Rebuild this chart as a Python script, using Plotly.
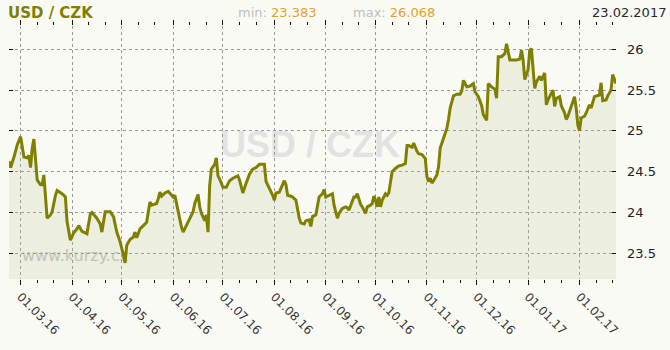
import plotly.graph_objects as go
from datetime import date

title_text = "USD / CZK"
watermark_site = "www.kurzy.cz"

dates = [
    "2016-02-23", "2016-02-24", "2016-02-26", "2016-02-28", "2016-03-01", "2016-03-03", "2016-03-05", "2016-03-06",
    "2016-03-07", "2016-03-08", "2016-03-09", "2016-03-10", "2016-03-11", "2016-03-13", "2016-03-14", "2016-03-15",
    "2016-03-16", "2016-03-17", "2016-03-19", "2016-03-20", "2016-03-22", "2016-03-23", "2016-03-26", "2016-03-28",
    "2016-03-29", "2016-03-31", "2016-04-02", "2016-04-04", "2016-04-05", "2016-04-07", "2016-04-09", "2016-04-10",
    "2016-04-12", "2016-04-13", "2016-04-16", "2016-04-18", "2016-04-19", "2016-04-20", "2016-04-21", "2016-04-24",
    "2016-04-26", "2016-04-28", "2016-04-30", "2016-05-02", "2016-05-03", "2016-05-04", "2016-05-06", "2016-05-08",
    "2016-05-09", "2016-05-10", "2016-05-11", "2016-05-12", "2016-05-14", "2016-05-16", "2016-05-17", "2016-05-18",
    "2016-05-19", "2016-05-22", "2016-05-23", "2016-05-24", "2016-05-25", "2016-05-27", "2016-05-29", "2016-05-31",
    "2016-06-01", "2016-06-02", "2016-06-03", "2016-06-05", "2016-06-06", "2016-06-07", "2016-06-09", "2016-06-11",
    "2016-06-13", "2016-06-14", "2016-06-16", "2016-06-17", "2016-06-18", "2016-06-20", "2016-06-21", "2016-06-22",
    "2016-06-23", "2016-06-24", "2016-06-26", "2016-06-27", "2016-06-28", "2016-06-29", "2016-07-01", "2016-07-03",
    "2016-07-05", "2016-07-07", "2016-07-09", "2016-07-10", "2016-07-11", "2016-07-13", "2016-07-15", "2016-07-17",
    "2016-07-19", "2016-07-21", "2016-07-23", "2016-07-25", "2016-07-26", "2016-07-27", "2016-07-29", "2016-07-31",
    "2016-08-01", "2016-08-02", "2016-08-04", "2016-08-06", "2016-08-07", "2016-08-08", "2016-08-09", "2016-08-11",
    "2016-08-12", "2016-08-14", "2016-08-15", "2016-08-16", "2016-08-17", "2016-08-19", "2016-08-20", "2016-08-22",
    "2016-08-23", "2016-08-24", "2016-08-26", "2016-08-27", "2016-08-28", "2016-08-30", "2016-08-31", "2016-09-01",
    "2016-09-03", "2016-09-05", "2016-09-06", "2016-09-08", "2016-09-09", "2016-09-11", "2016-09-13", "2016-09-14",
    "2016-09-15", "2016-09-17", "2016-09-18", "2016-09-19", "2016-09-20", "2016-09-22", "2016-09-23", "2016-09-25",
    "2016-09-26", "2016-09-28", "2016-09-29", "2016-09-30", "2016-10-01", "2016-10-02", "2016-10-03", "2016-10-04",
    "2016-10-05", "2016-10-07", "2016-10-08", "2016-10-09", "2016-10-10", "2016-10-11", "2016-10-13", "2016-10-15",
    "2016-10-17", "2016-10-19", "2016-10-20", "2016-10-21", "2016-10-23", "2016-10-24", "2016-10-26", "2016-10-27",
    "2016-10-29", "2016-10-31", "2016-11-01", "2016-11-02", "2016-11-03", "2016-11-04", "2016-11-05", "2016-11-07",
    "2016-11-08", "2016-11-09", "2016-11-11", "2016-11-13", "2016-11-14", "2016-11-15", "2016-11-17", "2016-11-19",
    "2016-11-21", "2016-11-22", "2016-11-23", "2016-11-25", "2016-11-27", "2016-11-29", "2016-11-30", "2016-12-02",
    "2016-12-04", "2016-12-05", "2016-12-07", "2016-12-08", "2016-12-10", "2016-12-12", "2016-12-13", "2016-12-14",
    "2016-12-16", "2016-12-18", "2016-12-19", "2016-12-21", "2016-12-23", "2016-12-25", "2016-12-27", "2016-12-28",
    "2016-12-29", "2016-12-30", "2017-01-01", "2017-01-02", "2017-01-03", "2017-01-04", "2017-01-05", "2017-01-06",
    "2017-01-08", "2017-01-09", "2017-01-11", "2017-01-12", "2017-01-13", "2017-01-15", "2017-01-16", "2017-01-17",
    "2017-01-18", "2017-01-20", "2017-01-21", "2017-01-23", "2017-01-24", "2017-01-25", "2017-01-27", "2017-01-28",
    "2017-01-29", "2017-01-30", "2017-01-31", "2017-02-01", "2017-02-02", "2017-02-04", "2017-02-05", "2017-02-07",
    "2017-02-08", "2017-02-10", "2017-02-11", "2017-02-13", "2017-02-14", "2017-02-15", "2017-02-17", "2017-02-18",
    "2017-02-20", "2017-02-21", "2017-02-23",
]

rates = [
    24.63, 24.55, 24.68, 24.83, 24.93, 24.68, 24.67, 24.70,
    24.55, 24.79, 24.90, 24.66, 24.40, 24.34, 24.34, 24.46,
    24.21, 23.93, 23.97, 24.01, 24.21, 24.27, 24.23, 24.19,
    23.89, 23.66, 23.75, 23.80, 23.84, 23.77, 23.75, 23.74,
    23.98, 24.00, 23.93, 23.86, 23.76, 23.89, 24.01, 24.01,
    23.95, 23.76, 23.64, 23.48, 23.383, 23.60, 23.67, 23.70,
    23.76, 23.69, 23.74, 23.80, 23.84, 23.88, 24.01, 24.13,
    24.09, 24.11, 24.17, 24.25, 24.20, 24.24, 24.26, 24.21,
    24.19, 24.21, 24.11, 23.88, 23.82, 23.76, 23.84, 23.93,
    24.01, 24.11, 24.22, 24.07, 23.99, 23.90, 23.97, 23.76,
    24.33, 24.53, 24.59, 24.67, 24.45, 24.41, 24.31, 24.31,
    24.39, 24.42, 24.44, 24.45, 24.40, 24.24, 24.36, 24.47,
    24.53, 24.55, 24.59, 24.59, 24.59, 24.38, 24.30, 24.21,
    24.15, 24.24, 24.25, 24.34, 24.39, 24.34, 24.21, 24.20,
    24.19, 24.15, 24.03, 23.93, 23.87, 23.86, 23.90, 23.91,
    23.83, 23.95, 23.97, 24.07, 24.19, 24.23, 24.28, 24.19,
    24.21, 24.23, 24.09, 23.93, 23.99, 24.05, 24.07, 24.06,
    24.03, 24.13, 24.19, 24.19, 24.23, 24.10, 24.07, 23.99,
    24.07, 24.09, 24.11, 24.20, 24.15, 24.07, 24.19, 24.07,
    24.15, 24.23, 24.21, 24.24, 24.36, 24.50, 24.54, 24.57,
    24.58, 24.60, 24.82, 24.82, 24.80, 24.85, 24.75, 24.72,
    24.71, 24.66, 24.44, 24.38, 24.42, 24.36, 24.39, 24.46,
    24.56, 24.79, 24.91, 25.03, 25.14, 25.28, 25.43, 25.45,
    25.45, 25.49, 25.62, 25.54, 25.55, 25.58, 25.48, 25.42,
    25.31, 25.20, 25.13, 25.58, 25.54, 25.51, 25.40, 25.91,
    25.91, 25.95, 26.068, 25.87, 25.87, 25.87, 25.88, 25.99,
    25.87, 25.63, 25.75, 25.99, 26.01, 25.79, 25.52, 25.60,
    25.67, 25.62, 25.71, 25.32, 25.38, 25.46, 25.50, 25.30,
    25.40, 25.42, 25.31, 25.22, 25.14, 25.18, 25.30, 25.36,
    25.42, 25.28, 25.07, 25.00, 25.16, 25.18, 25.22, 25.32,
    25.28, 25.42, 25.43, 25.44, 25.59, 25.37, 25.38, 25.43,
    25.50, 25.69, 25.58,
]

month_ticks = ["2016-03-01", "2016-04-01", "2016-05-01", "2016-06-01", "2016-07-01", "2016-08-01",
               "2016-09-01", "2016-10-01", "2016-11-01", "2016-12-01", "2017-01-01", "2017-02-01"]
minor_ticks = [m[:8] + d for m in month_ticks for d in ("11", "21")]
y_ticks = [23.5, 24, 24.5, 25, 25.5, 26]

x_range = ["2016-02-23", "2017-02-23"]
y_range = [23.185, 26.286]

W, H = 670, 350
L, R, T, B = 9, 54, 26, 71
PW, PH = W - L - R, H - T - B


def px_x(p):
    return (p - L) / PW


def px_y(p):
    return (H - B - p) / PH


OLIVE = "#808000"
GRID = "#999999"
BG = "#fafaf5"

fig = go.Figure()
fig.add_trace(go.Scatter(
    x=dates, y=rates, mode="lines",
    line=dict(color=OLIVE, width=3),
    fill="tozeroy", fillcolor="rgba(180,190,140,0.2)",
    hoverinfo="skip", showlegend=False,
))

axis_font = dict(family="DejaVu Sans", size=12, color="#333333")

fig.update_layout(
    width=W, height=H,
    margin=dict(l=L, r=R, t=T, b=B, pad=0),
    paper_bgcolor=BG, plot_bgcolor=BG,
    showlegend=False,
    xaxis=dict(
        type="date", range=x_range,
        tickmode="array", tickvals=month_ticks, tickformat="%d.%m.%y",
        tickangle=45, tickfont=axis_font,
        ticks="outside", ticklen=5, tickwidth=1, tickcolor="#111111",
        mirror="ticks", showline=False, zeroline=False,
        showgrid=True, gridcolor=GRID, griddash="dot", gridwidth=1,
        minor=dict(tickmode="array", tickvals=minor_ticks, ticks="outside",
                   ticklen=3, tickwidth=1, tickcolor="#111111", showgrid=False),
    ),
    yaxis=dict(
        range=y_range, side="right",
        tickmode="array", tickvals=y_ticks,
        tickfont=dict(family="DejaVu Sans", size=13, color="#222222"),
        ticks="inside", ticklen=4, tickwidth=1, tickcolor="#111111",
        ticklabelstandoff=10,
        mirror="ticks", showline=False, zeroline=False,
        showgrid=True, gridcolor=GRID, griddash="dot", gridwidth=1,
    ),
)

# watermarks (below the data)
fig.add_shape(type="rect", xref="paper", yref="paper",
              x0=px_x(200), x1=px_x(420), y0=px_y(163), y1=px_y(119),
              line=dict(width=0), fillcolor="rgba(0,0,0,0)", layer="between",
              label=dict(text=title_text, textposition="middle center",
                         font=dict(family="Liberation Sans", size=36, color="#e2e2e2", weight="bold")))
fig.add_shape(type="rect", xref="paper", yref="paper",
              x0=px_x(15), x1=px_x(135), y0=px_y(265), y1=px_y(243),
              line=dict(width=0), fillcolor="rgba(0,0,0,0)", layer="between",
              label=dict(text=watermark_site, textposition="middle center",
                         font=dict(family="DejaVu Sans", size=16, color="#c6c6c6")))

ymin, ymax = min(rates), max(rates)
last_date = date.fromisoformat(dates[-1]).strftime("%d.%m.%Y")

top_y = px_y(12.5)
fig.add_annotation(xref="paper", yref="paper", x=px_x(7.5), y=top_y, xanchor="left", yanchor="middle",
                   text="<b>" + title_text + "</b>", showarrow=False, borderpad=0, borderwidth=0,
                   font=dict(family="DejaVu Sans", size=15, color=OLIVE))
fig.add_annotation(xref="paper", yref="paper", x=px_x(238), y=top_y, xanchor="left", yanchor="middle",
                   text=f"<span style='color:#bdbdbd'>min: </span><span style='color:#dfa22a'>{ymin:.3f}</span>",
                   showarrow=False, borderpad=0, borderwidth=0,
                   font=dict(family="DejaVu Sans", size=13))
fig.add_annotation(xref="paper", yref="paper", x=px_x(352.5), y=top_y, xanchor="left", yanchor="middle",
                   text=f"<span style='color:#bdbdbd'>max: </span><span style='color:#dfa22a'>{ymax:.3f}</span>",
                   showarrow=False, borderpad=0, borderwidth=0,
                   font=dict(family="DejaVu Sans", size=13))
fig.add_annotation(xref="paper", yref="paper", x=px_x(666), y=top_y, xanchor="right", yanchor="middle",
                   text=last_date, showarrow=False, borderpad=0, borderwidth=0,
                   font=dict(family="DejaVu Sans", size=13, color="#2a2a2a"))

fig.write_html("out.html", config={"displayModeBar": False})
